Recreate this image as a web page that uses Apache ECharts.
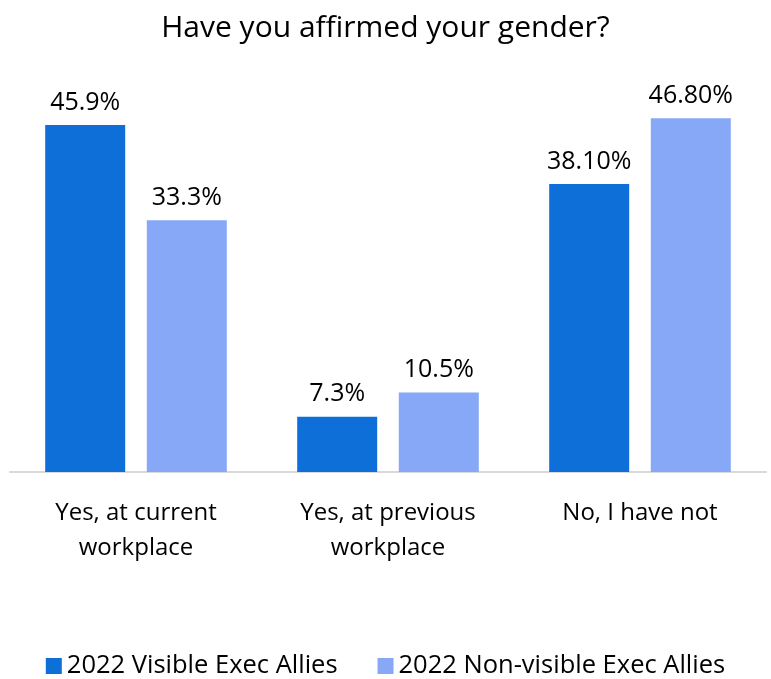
<!DOCTYPE html>
<html lang="en">

<head>
  <meta charset="UTF-8" />
  <title>Document</title>
  <script src="https://cdn.jsdelivr.net/npm/echarts@6/dist/echarts.min.js"></script>
  <style>
    body,
    html {
      margin: 0;
      padding: 0;
      width: 100%;
      height: 100%;
      overflow: hidden;
      background: #fff;
    }

    #chart {
      height: 679px;
      width: 771px;
    }
  </style>
</head>

<body>
  <div id="chart"></div>
</body>
<script>
  var categories = ['Yes, at current\nworkplace', 'Yes, at previous\nworkplace', 'No, I have not'];
  var seriesNames = ['2022 Visible Exec Allies', '2022 Non-visible Exec Allies'];
  var visibleValues = [45.9, 7.3, 38.1];
  var nonVisibleValues = [33.3, 10.5, 46.8];
  var visibleLabels = ['45.9%', '7.3%', '38.10%'];
  var nonVisibleLabels = ['33.3%', '10.5%', '46.80%'];

  var font = '"Open Sans", "Noto Sans", sans-serif';

  function makeData(values, labels) {
    return values.map(function (v, i) {
      return { value: v, label: { formatter: labels[i] } };
    });
  }

  var myChart = echarts.init(document.getElementById('chart'));
  var option = {
    backgroundColor: '#ffffff',
    animation: false,
    textStyle: { fontFamily: font },
    title: {
      text: 'Have you affirmed your gender?',
      left: 'center',
      top: 8,
      textStyle: {
        fontFamily: font,
        fontSize: 30,
        fontWeight: 'normal',
        color: '#000000'
      }
    },
    legend: {
      top: 648,
      left: 'center',
      icon: 'rect',
      itemWidth: 16,
      itemHeight: 16,
      itemGap: 40,
      textStyle: {
        fontFamily: font,
        fontSize: 25.5,
        color: '#000000'
      },
      data: seriesNames
    },
    grid: {
      left: 10,
      right: 5,
      top: 94,
      bottom: 207,
      containLabel: false
    },
    xAxis: {
      type: 'category',
      data: categories,
      axisLine: { lineStyle: { color: '#d9d9d9', width: 2 } },
      axisTick: { show: false },
      axisLabel: {
        fontFamily: font,
        fontSize: 24,
        color: '#000000',
        lineHeight: 35,
        margin: 24
      }
    },
    yAxis: {
      type: 'value',
      min: 0,
      max: 50,
      show: false,
      splitLine: { show: false }
    },
    series: [{
      name: seriesNames[0],
      type: 'bar',
      barWidth: 80,
      barGap: '27%',
      itemStyle: { color: '#0f6fd9' },
      label: {
        show: true,
        position: 'top',
        distance: 10,
        fontFamily: font,
        fontSize: 25,
        color: '#000000'
      },
      data: makeData(visibleValues, visibleLabels)
    }, {
      name: seriesNames[1],
      type: 'bar',
      barWidth: 80,
      itemStyle: { color: '#86a8f7' },
      label: {
        show: true,
        position: 'top',
        distance: 10,
        fontFamily: font,
        fontSize: 25,
        color: '#000000'
      },
      data: makeData(nonVisibleValues, nonVisibleLabels)
    }]
  };
  myChart.setOption(option);
</script>

</html>
